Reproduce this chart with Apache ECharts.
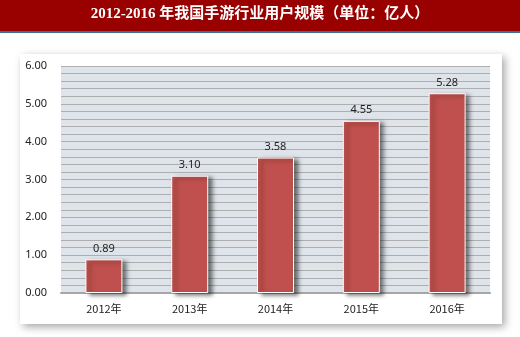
<!DOCTYPE html>
<html><head><meta charset="utf-8">
<script src="https://cdn.jsdelivr.net/npm/echarts@6/dist/echarts.min.js"></script>
<style>html,body{margin:0;padding:0;background:#fff}#c{width:520px;height:337px}</style>
</head><body><div id="c"></div>
<script>
var titleText = '2012-2016 年我国手游行业用户规模（单位：亿人）';
var categories = ['2012年', '2013年', '2014年', '2015年', '2016年'];
var users = [0.89, 3.10, 3.58, 4.55, 5.28];
var yTicks = [0, 1, 2, 3, 4, 5, 6];

var chart = echarts.init(document.getElementById('c'));
chart.setOption({
  animation: false,
  backgroundColor: '#fff',
  graphic: [
    {type: 'rect', shape: {x: 0, y: 0, width: 520, height: 32}, style: {fill: '#990000'}, z: 0},
    {type: 'rect', shape: {x: 0, y: 31, width: 520, height: 2}, style: {fill: '#3C6E96'}, z: 0},
    {type: 'rect', shape: {x: 20, y: 54, width: 482, height: 270}, style: {fill: '#fff', shadowBlur: 8, shadowColor: 'rgba(0,0,0,0.35)', shadowOffsetX: 3, shadowOffsetY: 3}, z: -1, zlevel: 0},
    {type: 'text', left: 'center', top: 7, style: {text: titleText, fill: '#fff', font: 'bold 15px "Liberation Serif", "Noto Sans CJK SC", serif'}, z: 5}
  ],
  grid: {left: 61, right: 30, top: 66, bottom: 44, show: true, backgroundColor: '#DEE4EA', borderWidth: 0},
  xAxis: {
    type: 'category', data: categories,
    axisLine: {show: true, lineStyle: {color: '#A6A6A6', width: 2}},
    axisTick: {show: false},
    axisLabel: {color: '#222', fontSize: 11, margin: 10, fontFamily: 'Noto Sans CJK SC'}
  },
  yAxis: {
    type: 'value', min: 0, max: 6, interval: 1,
    axisLine: {show: false}, axisTick: {show: false},
    axisLabel: {color: '#222', fontSize: 11, margin: 14, formatter: function (v) { return v.toFixed(2); }, fontFamily: 'Noto Sans'},
    splitLine: {show: true, lineStyle: {color: '#AEAEAE', width: 1}},
    minorTick: {show: false, splitNumber: 5},
    minorSplitLine: {show: true, lineStyle: {color: '#AEAEAE', width: 1}}
  },
  series: [{
    type: 'bar', data: users, barWidth: 37,
    itemStyle: {color: '#C0504D', borderColor: '#fff', borderWidth: 1, shadowColor: 'rgba(0,0,0,0.5)', shadowBlur: 4, shadowOffsetX: 4, shadowOffsetY: 2},
    label: {show: true, position: 'top', distance: 5, color: '#222', fontSize: 11, fontFamily: 'Noto Sans', formatter: function (p) { return p.value.toFixed(2); }}
  }]
});
</script></body></html>
